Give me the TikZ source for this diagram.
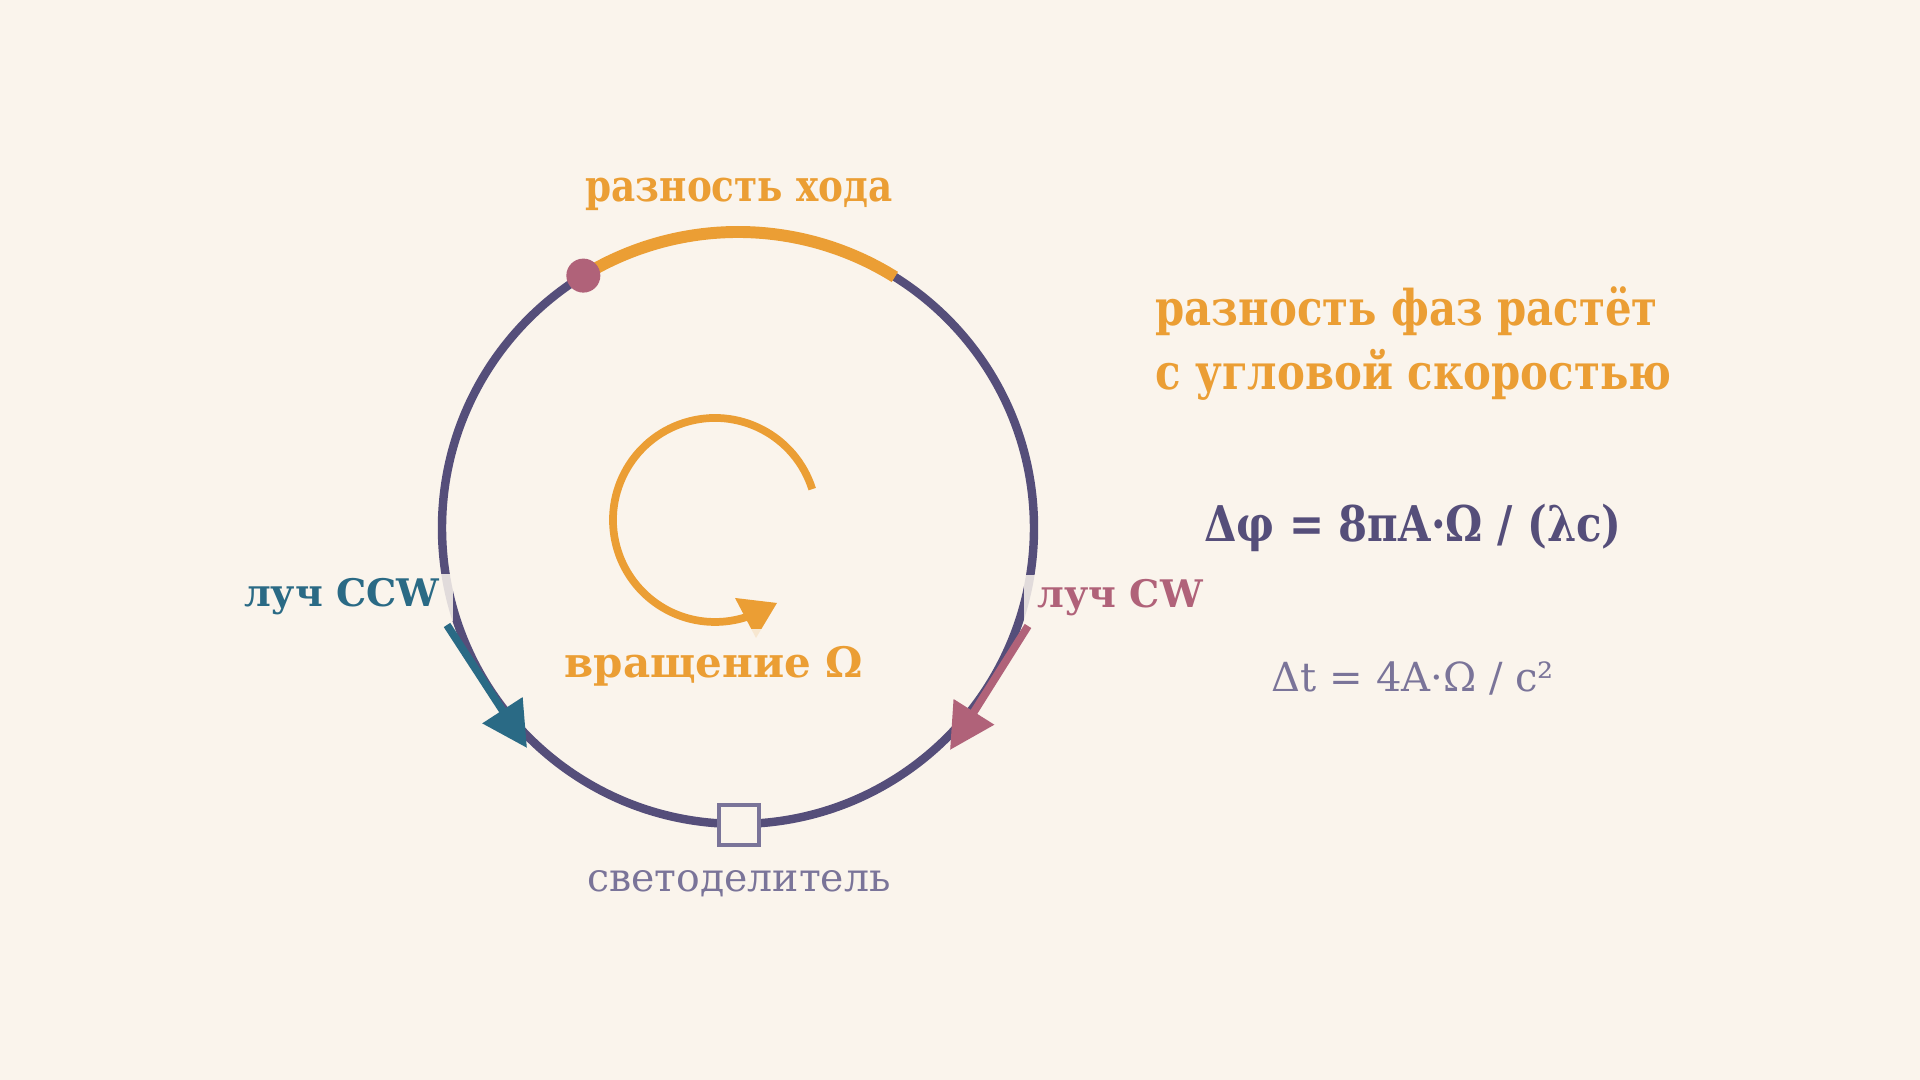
\documentclass[tikz,border=0pt]{standalone}
\usepackage{fontspec}
\setmainfont{DejaVu Serif}
\newfontfamily\narrowserif{DejaVu Serif}[FakeStretch=0.85]
\usetikzlibrary{arrows.meta}

\definecolor{bg}{HTML}{FAF4EC}
\definecolor{ringc}{HTML}{554E7A}
\definecolor{orangec}{HTML}{EB9E34}
\definecolor{pinkc}{HTML}{B06279}
\definecolor{tealc}{HTML}{2A6A85}
\definecolor{greyc}{HTML}{7A7499}

\begin{document}
\begin{tikzpicture}[x=0.01cm, y=0.01cm,
  label/.style={inner xsep=4pt, inner ysep=1.5pt, fill=bg, fill opacity=0.85, text opacity=1},
  beam/.style={line width=2.2pt, -{Triangle[length=0.45cm, width=0.46cm]}},
  boldtxt/.style={font=\bfseries\fontsize{#1}{18.5pt}\selectfont},
  narrowtxt/.style={font=\narrowserif\bfseries\fontsize{#1}{18.2pt}\selectfont},
  normtxt/.style={font=\fontsize{#1}{15pt}\selectfont}]

\def\R{296}

\fill [bg] (0,0) rectangle (1920,1080);
\path [use as bounding box] (0,0) rectangle (1920,1080);

% RING
\coordinate (ring) at (738,552);
\draw [ringc, line width=2.4pt] (ring) circle [radius=\R];
\draw [orangec, line width=3.4pt] (ring) ++(58:\R) arc [start angle=58, end angle=122, radius=\R];
\node (probe) [circle, fill=pinkc, inner sep=0pt, minimum size=0.34cm] at ([shift={(121.5:\R)}]ring) {};
\node (splitter) [draw=greyc, line width=1.1pt, fill=bg, minimum size=0.4cm, inner sep=0pt] at (739,255) {};

% BEAMS
\coordinate (ccw start) at (447,455);
\coordinate (ccw tip) at (527,332);
\coordinate (cw start) at (1028,454);
\coordinate (cw tip) at (950,330);
\draw [beam, tealc] (ccw start) -- (ccw tip);
\draw [beam, pinkc] (cw start) -- (cw tip);

% ROTATION
\coordinate (spin) at (715,560);
\draw [orangec, line width=2.2pt] (spin) ++(17.6:102) arc [start angle=17.6, end angle=288, radius=102];
\fill [orangec] (735,482) -- (777,477) -- (756,442) -- cycle;

% LABELS
\node (path diff) [label, inner ysep=4.3pt, narrowtxt=12.5pt, text=orangec, anchor=base] at (739,878) {разность хода};
\node (ccw label) [label, boldtxt=10.8pt, text=tealc, anchor=base east] at (454,473) {луч CCW};
\node (cw label) [label, boldtxt=10.8pt, text=pinkc, anchor=base west] at (1023,472) {луч CW};
\node (spin label) [label, inner ysep=5pt, boldtxt=11.95pt, text=orangec, anchor=base] at (714,402) {вращение Ω};
\node (splitter label) [label, normtxt=11.2pt, text=greyc, anchor=base] at (739,188) {светоделитель};

% NOTE
\node (note) [narrowtxt=14pt, text=orangec, align=left, anchor=base west] at (1143,690) {разность фаз растёт\\с угловой скоростью};
\node (phase) [narrowtxt=14pt, text=ringc, anchor=base] at (1413,538) {Δφ = 8πA·Ω / (λc)};
\node (delay) [normtxt=11.4pt, text=greyc, anchor=base] at (1413,388) {Δt = 4A·Ω / c²};

\end{tikzpicture}
\end{document}
